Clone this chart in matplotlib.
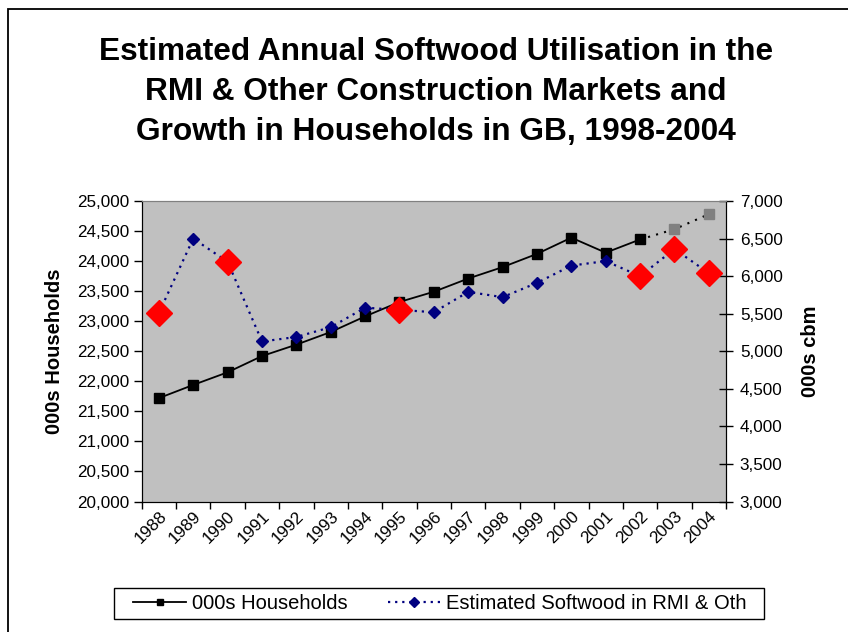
import matplotlib.pyplot as plt
from matplotlib.lines import Line2D
from matplotlib.patches import Rectangle
import numpy as np

plt.rcParams['font.family'] = ['Liberation Sans', 'DejaVu Sans']

years = ['1988', '1989', '1990', '1991', '1992', '1993', '1994', '1995', '1996',
         '1997', '1998', '1999', '2000', '2001', '2002', '2003', '2004']
# 000s households; the last two years are projections
households = [21720, 21940, 22150, 22420, 22610, 22820, 23080, 23320, 23490,
              23710, 23900, 24120, 24390, 24140, 24360, 24530, 24780]
projected_years = ['2003', '2004']
# estimated softwood in RMI & other construction, 000s cbm
softwood = [5510, 6500, 6190, 5130, 5190, 5320, 5580, 5550, 5520,
            5790, 5720, 5910, 6140, 6200, 6000, 6360, 6040]
highlight_years = ['1988', '1990', '1995', '2002', '2003', '2004']

W, H = 848, 632
fig = plt.figure(figsize=(W / 100, H / 100), dpi=100)
ax = fig.add_axes([141.7 / W, 1 - 501.5 / H, 584.3 / W, 300.5 / H])
ax.set_facecolor('#c0c0c0')

x = np.arange(len(years))
proj = np.array([y in projected_years for y in years])
hh = np.array(households)
n_act = (~proj).sum()

ax.plot(x[:n_act], hh[:n_act], color='black', lw=1.3, marker='s', ms=6.5,
        mfc='black', mec='black', zorder=3)
ax.plot(x[n_act - 1:], hh[n_act - 1:], color='black', lw=1.5,
        ls=(0, (1, 3)), zorder=2)
ax.plot(x[proj], hh[proj], ls='none', marker='s', ms=6.5, mfc='#808080',
        mec='#808080', zorder=3)

ax.set_xlim(-0.5, len(years) - 0.5)
ax.set_ylim(20000, 25000)
ax.set_yticks(np.arange(20000, 25001, 500))
ax.set_yticklabels([f'{v:,}' for v in range(20000, 25001, 500)])
ax.tick_params(axis='y', direction='out', length=6, width=1, labelsize=12.3, pad=3)

# category ticks sit between years, labels at the year centres
ax.set_xticks(np.arange(-0.5, len(years), 1.0))
ax.set_xticklabels([])
ax.set_xticks(x, minor=True)
ax.set_xticklabels(years, minor=True, rotation=45, ha='right', va='top',
                   rotation_mode='anchor', fontsize=12.3)
ax.tick_params(axis='x', which='major', direction='out', length=5, width=1)
ax.tick_params(axis='x', which='minor', length=0, pad=5)

ax2 = ax.twinx()
sw = np.array(softwood)
ax2.plot(x, sw, color='#000080', lw=1.6, ls=(0, (1, 2.2)), marker='D', ms=6,
         mfc='#000080', mec='#000080', zorder=3)
hl = np.array([y in highlight_years for y in years])
ax2.plot(x[hl], sw[hl], ls='none', marker='D', ms=13.5, mfc='red', mec='red',
         zorder=4)
ax2.set_ylim(3000, 7000)
ax2.set_yticks(np.arange(3000, 7001, 500))
ax2.set_yticklabels([f'{v:,}' for v in range(3000, 7001, 500)])
ax2.tick_params(axis='y', direction='inout', length=10, width=1,
                labelsize=12.3, pad=5)

for a in (ax, ax2):
    a.spines['top'].set_color('#808080')
    for s in ('left', 'right', 'bottom'):
        a.spines[s].set_color('black')

fig.text(436 / W, 1 - 92 / H,
         'Estimated Annual Softwood Utilisation in the\n'
         'RMI & Other Construction Markets and\n'
         'Growth in Households in GB, 1998-2004',
         ha='center', va='center', fontsize=22.8, fontweight='bold',
         linespacing=1.42)
fig.text(54.5 / W, 1 - 351 / H, '000s Households', rotation=90, ha='center',
         va='center', fontsize=14.5, fontweight='bold')
fig.text(811 / W, 1 - 351 / H, '000s cbm', rotation=90, ha='center',
         va='center', fontsize=14.5, fontweight='bold')

handles = [
    Line2D([], [], color='black', lw=1.3, marker='s', ms=5),
    Line2D([], [], color='#000080', lw=1.6, ls=(0, (1, 2.2)), marker='D', ms=5),
]
fig.legend(handles, ['000s Households', 'Estimated Softwood in RMI & Oth'],
           loc='center', bbox_to_anchor=(440 / W, 1 - 603.5 / H), ncol=2,
           fontsize=14.5, frameon=False, handlelength=2.6,
           handletextpad=0.3, columnspacing=2.0, borderpad=0.2,
           borderaxespad=0)
# legend box drawn separately to get the wide side margins
fig.patches.append(Rectangle((114 / W, 1 - 619 / H), 650 / W, 31 / H,
                             transform=fig.transFigure, fill=False,
                             edgecolor='black', lw=1))

# outer chart border
fig.patches.append(Rectangle((7.5 / W, -0.1), 1.2, 1.1 - 9 / H,
                             transform=fig.transFigure, fill=False,
                             edgecolor='black', lw=1.3))

fig.savefig('out.png', dpi=100)
